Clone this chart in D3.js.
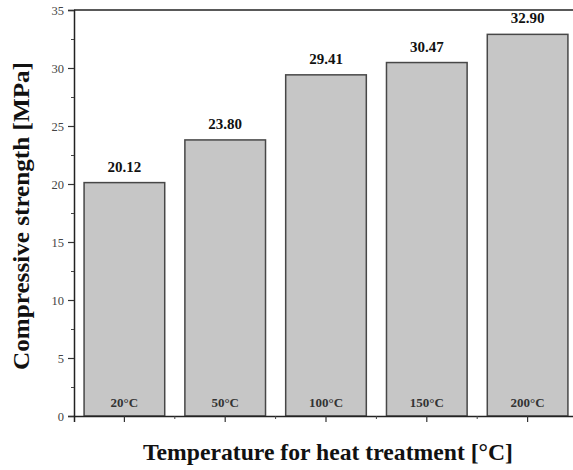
<!DOCTYPE html>
<html><head><meta charset="utf-8">
<script src="https://cdn.jsdelivr.net/npm/d3@7"></script>
<style>body{margin:0;background:#fff}svg{display:block}</style>
</head><body>
<svg id="c" width="573" height="470"></svg>
<script>
const categories = ["20°C", "50°C", "100°C", "150°C", "200°C"];
const values = [20.12, 23.80, 29.41, 30.47, 32.90];
const valueLabels = ["20.12", "23.80", "29.41", "30.47", "32.90"];
const yTicks = [0, 5, 10, 15, 20, 25, 30, 35];
const yMinorTicks = [2.5, 7.5, 12.5, 17.5, 22.5, 27.5, 32.5];

const svg = d3.select("#c");
const mLeft = 74, mTop = 10, mBottom = 416, mRight = 578;
const font = "'Liberation Serif', 'Times New Roman', serif";

const x = d3.scaleBand().domain(categories).range([mLeft, mRight]).paddingInner(0.2).paddingOuter(0.1);
const y = d3.scaleLinear().domain([0, 35]).range([mBottom, mTop]);

// bars
svg.selectAll("rect.bar").data(values).enter().append("rect")
  .attr("x", (d, i) => x(categories[i]))
  .attr("y", d => y(d))
  .attr("width", x.bandwidth())
  .attr("height", d => y(0) - y(d))
  .attr("fill", "#c6c6c6").attr("stroke", "#474747").attr("stroke-width", 1.5);

// value labels
svg.selectAll("text.val").data(values).enter().append("text")
  .attr("x", (d, i) => x(categories[i]) + x.bandwidth() / 2)
  .attr("y", d => y(d) - 11)
  .attr("text-anchor", "middle").attr("font-family", font).attr("font-weight", "bold")
  .attr("font-size", 15).attr("fill", "#111")
  .text((d, i) => valueLabels[i]);

// category labels inside bars
svg.selectAll("text.cat").data(categories).enter().append("text")
  .attr("x", d => x(d) + x.bandwidth() / 2)
  .attr("y", mBottom - 9)
  .attr("text-anchor", "middle").attr("font-family", font).attr("font-weight", "bold")
  .attr("font-size", 13).attr("fill", "#333")
  .text(d => d);

// y axis
const yAxis = d3.axisLeft(y).tickValues(yTicks).tickSize(6).tickPadding(4);
const gy = svg.append("g").attr("transform", `translate(${mLeft},0)`).call(yAxis);
gy.select(".domain").attr("stroke", "#222").attr("stroke-width", 1.5);
gy.selectAll(".tick line").attr("stroke", "#333").attr("stroke-width", 1.2);
gy.selectAll(".tick text").attr("font-family", font).attr("font-size", 12.5).attr("fill", "#444");
const yMinor = d3.axisLeft(y).tickValues(yMinorTicks).tickSize(3).tickFormat("");
const gym = svg.append("g").attr("transform", `translate(${mLeft},0)`).call(yMinor);
gym.select(".domain").remove();
gym.selectAll(".tick line").attr("stroke", "#444");

// x axis
const xAxis = d3.axisBottom(x).tickSize(6).tickFormat("");
const gx = svg.append("g").attr("transform", `translate(0,${mBottom})`).call(xAxis);
gx.select(".domain").attr("stroke", "#222").attr("stroke-width", 1.5);
gx.selectAll(".tick line").attr("stroke", "#333").attr("stroke-width", 1.2);
const step = x.step();
const minorPos = categories.slice(0, -1).map(c => x(c) + x.bandwidth() / 2 + step / 2);
svg.append("g").selectAll("line").data(minorPos).enter().append("line")
  .attr("x1", d => d).attr("x2", d => d).attr("y1", mBottom).attr("y2", mBottom + 3)
  .attr("stroke", "#444");

// top frame line
svg.append("line").attr("x1", mLeft).attr("x2", mRight).attr("y1", mTop).attr("y2", mTop)
  .attr("stroke", "#222").attr("stroke-width", 1.5);

// axis titles
svg.append("text").attr("x", 328).attr("y", 460).attr("text-anchor", "middle")
  .attr("font-family", font).attr("font-weight", "bold").attr("font-size", 23).attr("fill", "#111")
  .attr("textLength", 370).attr("lengthAdjust", "spacingAndGlyphs")
  .text("Temperature for heat treatment [°C]");
svg.append("text").attr("transform", `translate(29,216) rotate(-90)`)
  .attr("text-anchor", "middle")
  .attr("font-family", font).attr("font-weight", "bold").attr("font-size", 23).attr("fill", "#111")
  .attr("textLength", 308).attr("lengthAdjust", "spacingAndGlyphs")
  .text("Compressive strength [MPa]");
</script>
</body></html>
